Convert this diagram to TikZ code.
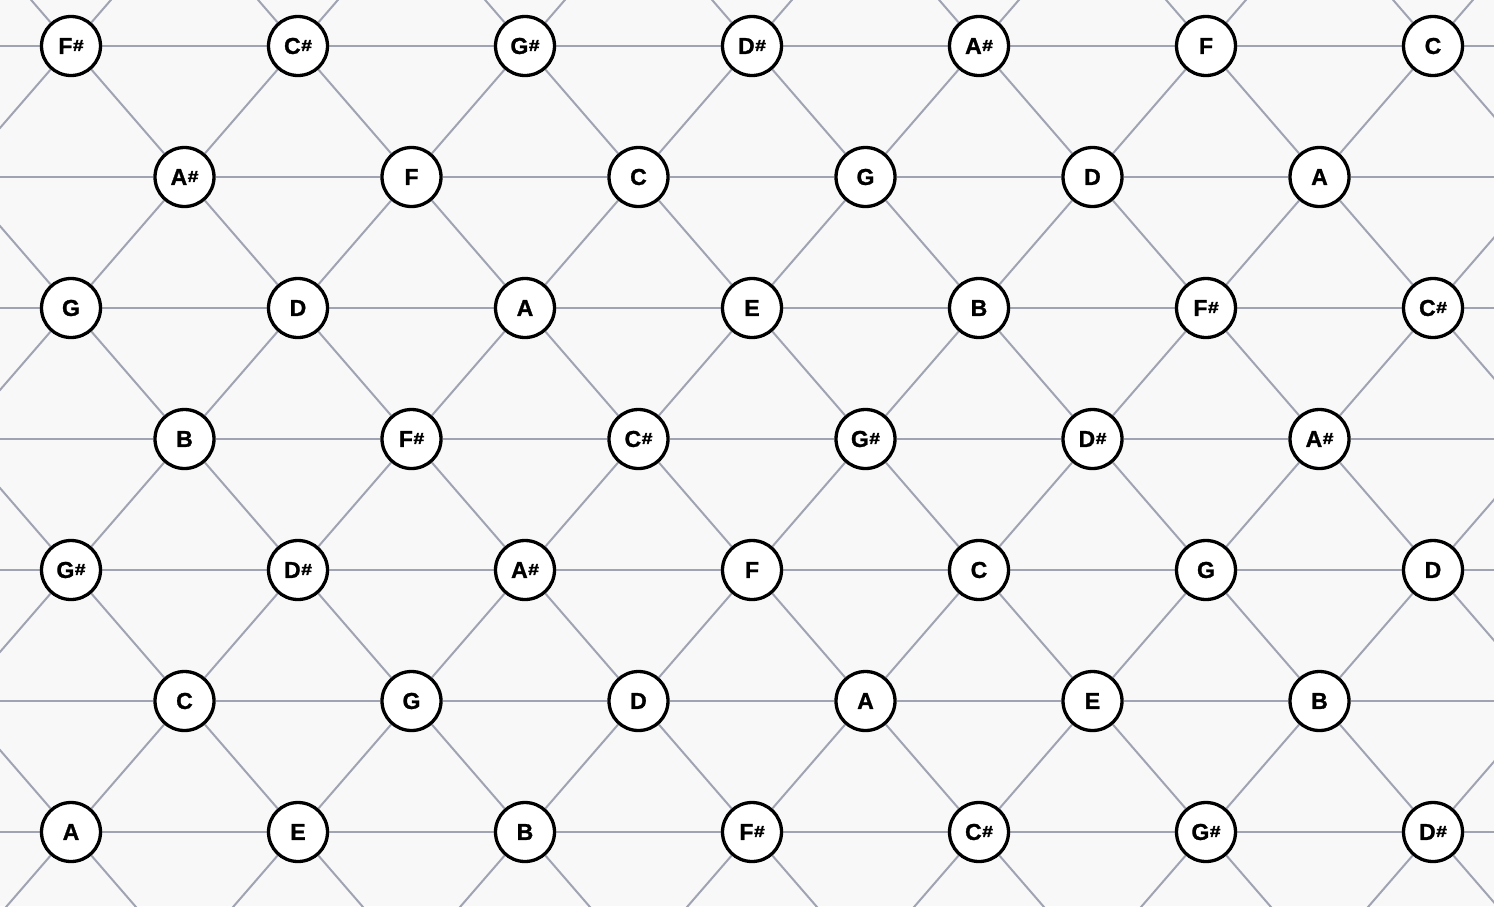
\documentclass[tikz,border=0pt]{standalone}
\usepackage{fontspec}
\setmainfont{Liberation Sans}
\newfontfamily\notefont{Liberation Sans Bold}[FakeBold=1.2]
\newfontfamily\sharpfont{Liberation Sans Bold}[FakeBold=2]
\usetikzlibrary{backgrounds}
\definecolor{bgc}{RGB}{248,248,248}
\definecolor{edgec}{RGB}{160,164,178}
\newcommand\shp{{\sharpfont\fontsize{16}{16}\selectfont\kern0.5pt\raisebox{3pt}{\scalebox{1.2}[1]{\#}}}}
\newcommand\notename[1]{\ifcase#1 C\or C\shp\or D\or D\shp\or E\or F\or F\shp\or G\or G\shp\or A\or A\shp\or B\fi}
\begin{document}
\begin{tikzpicture}[x=1pt,y=-1pt,
  note/.style={circle,draw=black,line width=3.3pt,fill=white,minimum size=59pt,inner sep=0pt,font=\notefont\fontsize{23}{23}\selectfont},
  link/.style={draw=edgec,line width=2pt}]
\useasboundingbox (0,0) rectangle (1494,906);
% lattice points: real nodes and off-picture coordinates
\foreach \j in {0,...,8}{
  \foreach \i in {0,...,16}{
    \pgfmathtruncatemacro\pty{mod(\i+\j,2)}
    \ifnum\pty=1
      \pgfmathsetmacro\xx{71+113.5*(\i-2)}
      \pgfmathsetmacro\yy{46+131*(\j-1)}
      \pgfmathtruncatemacro\isreal{(\j>=1)&&(\j<=7)&&(\i>=2)&&(\i<=14)}
      \pgfmathtruncatemacro\pc{mod(6+7*((\i-2)-(\j-1))/2+4*(\j-1)+240,12)}
      \ifnum\isreal=1
        \node[note] (v-\i-\j) at (\xx,\yy) {\notename{\pc}};
      \else
        \coordinate (v-\i-\j) at (\xx,\yy);
      \fi
    \fi
  }
}
\begin{scope}[on background layer]
  \fill[bgc] (0,0) rectangle (1494,906);
  \clip (0,0) rectangle (1494,906);
  \foreach \j in {0,...,8}{
    \foreach \i in {0,...,16}{
      \pgfmathtruncatemacro\pty{mod(\i+\j,2)}
      \ifnum\pty=1
        \pgfmathtruncatemacro\ia{\i+2}
        \pgfmathtruncatemacro\ib{\i+1}
        \pgfmathtruncatemacro\ic{\i-1}
        \pgfmathtruncatemacro\jb{\j+1}
        \ifnum\ia<17 \draw[link] (v-\i-\j) -- (v-\ia-\j); \fi
        \ifnum\jb<9
          \ifnum\ib<17 \draw[link] (v-\i-\j) -- (v-\ib-\jb); \fi
          \ifnum\ic>-1 \draw[link] (v-\i-\j) -- (v-\ic-\jb); \fi
        \fi
      \fi
    }
  }
\end{scope}
\end{tikzpicture}
\end{document}
